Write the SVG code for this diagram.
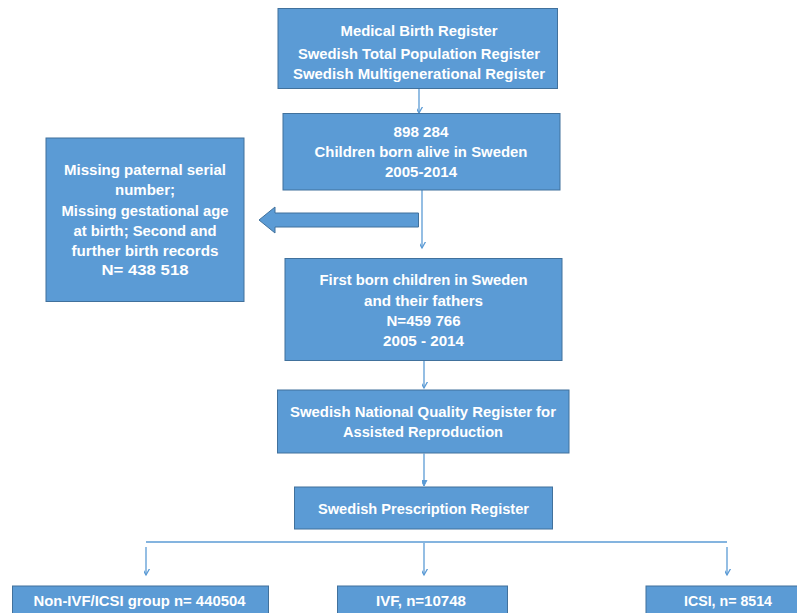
<svg xmlns="http://www.w3.org/2000/svg" width="797" height="613" viewBox="0 0 797 613">
<defs>
<style>
.box{fill:#5B9BD5;stroke:#41719C;stroke-width:1}
.t{font-family:"Liberation Sans",Arial,sans-serif;font-weight:bold;font-size:14.5px;fill:#FFFFFF;text-anchor:middle}
.c{fill:none;stroke:#5B9BD5;stroke-width:1.3}
</style>
<marker id="open" markerUnits="userSpaceOnUse" markerWidth="12" markerHeight="12" viewBox="-6 -10 12 12" refX="0" refY="0" orient="auto-start-reverse">
<path d="M-4.5,-8 L0,0 L4.5,-8" fill="none" stroke="#5B9BD5" stroke-width="1.3" transform="rotate(-90)"/>
</marker>
<marker id="filled" markerUnits="userSpaceOnUse" markerWidth="12" markerHeight="12" viewBox="-6 -10 12 12" refX="0" refY="0" orient="auto">
<path d="M-4,-8 L0,0 L4,-8 Z" fill="#5B9BD5" stroke="#5B9BD5" stroke-width="1" transform="rotate(-90)"/>
</marker>
</defs>
<rect width="797" height="613" fill="#FFFFFF"/>
<g id="connectors">
<line class="c" x1="419" y1="88.5" x2="419" y2="113" marker-end="url(#open)"/>
<line class="c" x1="422" y1="190" x2="422" y2="248" marker-end="url(#open)"/>
<line class="c" x1="424" y1="361" x2="424" y2="388" marker-end="url(#open)"/>
<line class="c" x1="424" y1="453.5" x2="424" y2="486" marker-end="url(#filled)"/>
<line class="c" x1="146" y1="542" x2="727" y2="542"/>
<line class="c" x1="146" y1="547" x2="146" y2="575" marker-end="url(#open)"/>
<line class="c" x1="424" y1="543" x2="424" y2="575" marker-end="url(#open)"/>
<line class="c" x1="727" y1="547" x2="727" y2="575" marker-end="url(#open)"/>
<polygon id="exclusion-arrow" points="418.5,213 275,213 275,207 259,220 275,233 275,227 418.5,227" fill="#5B9BD5" stroke="#41719C" stroke-width="1"/>
</g>
<g id="node-registers">
<rect class="box" x="278" y="8.5" width="279.5" height="80"/>
<text class="t" x="419" y="36" textLength="157" lengthAdjust="spacingAndGlyphs">Medical Birth Register</text>
<text class="t" x="419" y="59" textLength="242" lengthAdjust="spacingAndGlyphs">Swedish Total Population Register</text>
<text class="t" x="419" y="79" textLength="252" lengthAdjust="spacingAndGlyphs">Swedish Multigenerational Register</text>
</g>
<g id="node-born-alive">
<rect class="box" x="283" y="113.5" width="277" height="76.5"/>
<text class="t" x="421" y="136.5" textLength="55" lengthAdjust="spacingAndGlyphs">898 284</text>
<text class="t" x="421" y="156.5" textLength="213" lengthAdjust="spacingAndGlyphs">Children born alive in Sweden</text>
<text class="t" x="421" y="176.5" textLength="72" lengthAdjust="spacingAndGlyphs">2005-2014</text>
</g>
<g id="node-excluded">
<rect class="box" x="46" y="138" width="198" height="163.5"/>
<text class="t" x="145" y="175" textLength="162" lengthAdjust="spacingAndGlyphs">Missing paternal serial</text>
<text class="t" x="145" y="195" textLength="60" lengthAdjust="spacingAndGlyphs">number;</text>
<text class="t" x="145" y="215.5" textLength="167" lengthAdjust="spacingAndGlyphs">Missing gestational age</text>
<text class="t" x="145" y="235.5" textLength="143" lengthAdjust="spacingAndGlyphs">at birth; Second and</text>
<text class="t" x="145" y="255.5" textLength="147" lengthAdjust="spacingAndGlyphs">further birth records</text>
<text class="t" x="145" y="275" textLength="87" lengthAdjust="spacingAndGlyphs">N= 438 518</text>
</g>
<g id="node-first-born">
<rect class="box" x="285" y="258.5" width="277" height="102"/>
<text class="t" x="423.5" y="285" textLength="208" lengthAdjust="spacingAndGlyphs">First born children in Sweden</text>
<text class="t" x="423.5" y="305.5" textLength="119" lengthAdjust="spacingAndGlyphs">and their fathers</text>
<text class="t" x="423.5" y="325.5" textLength="74" lengthAdjust="spacingAndGlyphs">N=459 766</text>
<text class="t" x="423.5" y="346" textLength="81" lengthAdjust="spacingAndGlyphs">2005 - 2014</text>
</g>
<g id="node-quality-register">
<rect class="box" x="277.5" y="390" width="291.5" height="63"/>
<text class="t" x="423" y="417" textLength="266" lengthAdjust="spacingAndGlyphs">Swedish National Quality Register for</text>
<text class="t" x="423" y="437" textLength="160" lengthAdjust="spacingAndGlyphs">Assisted Reproduction</text>
</g>
<g id="node-prescription">
<rect class="box" x="294.5" y="487" width="258" height="42"/>
<text class="t" x="423.5" y="513.5" textLength="211" lengthAdjust="spacingAndGlyphs">Swedish Prescription Register</text>
</g>
<g id="node-non-ivf">
<rect class="box" x="12.5" y="586" width="256" height="40"/>
<text class="t" x="139.5" y="606" textLength="212" lengthAdjust="spacingAndGlyphs">Non-IVF/ICSI group n= 440504</text>
</g>
<g id="node-ivf">
<rect class="box" x="337.5" y="586" width="170" height="40"/>
<text class="t" x="421" y="606" textLength="90" lengthAdjust="spacingAndGlyphs">IVF, n=10748</text>
</g>
<g id="node-icsi">
<rect class="box" x="646" y="586" width="160" height="40"/>
<text class="t" x="728" y="606" textLength="88" lengthAdjust="spacingAndGlyphs">ICSI, n= 8514</text>
</g>
</svg>
